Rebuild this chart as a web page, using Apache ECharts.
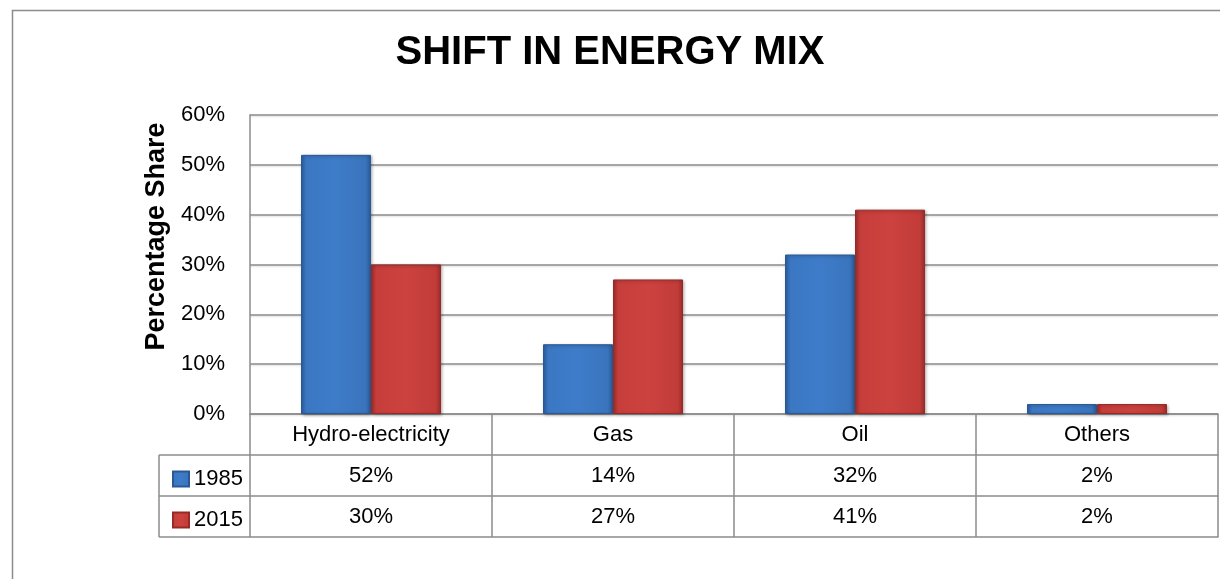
<!DOCTYPE html>
<html>
<head>
<meta charset="utf-8">
<title>Shift in Energy Mix</title>
<script src="https://cdn.jsdelivr.net/npm/echarts@6/dist/echarts.min.js"></script>
<style>
    html, body { margin: 0; padding: 0; background: #fff; }
    #chart { width: 1220px; height: 579px; }
</style>
</head>
<body>
<div id="chart"></div>
<script>
// data
const categories = ['Hydro-electricity', 'Gas', 'Oil', 'Others']
const years = ['1985', '2015']
const share1985 = [52, 14, 32, 2]
const share2015 = [30, 27, 41, 2]
const yTicks = [0, 10, 20, 30, 40, 50, 60]

// layout
const FONT = 'Liberation Sans'
const GRID_LEFT = 250
const GRID_RIGHT = 2
const GRID_TOP = 115
const GRID_BOTTOM = 165   // 0% line sits at y = 414
const ROW = 41            // data table row height
const LEGEND_LEFT = 159
const LINE = '#8c8c8c'

const pct = v => v + '%'

const blue = new echarts.graphic.LinearGradient(0, 0, 1, 0, [
    { offset: 0, color: '#2f63a6' },
    { offset: 0.08, color: '#3b77c3' },
    { offset: 0.5, color: '#3e7cc9' },
    { offset: 0.92, color: '#3a74bd' },
    { offset: 1, color: '#2b5a98' }
])
const red = new echarts.graphic.LinearGradient(0, 0, 1, 0, [
    { offset: 0, color: '#a8302d' },
    { offset: 0.08, color: '#c63e3b' },
    { offset: 0.5, color: '#cc423f' },
    { offset: 0.92, color: '#c23c39' },
    { offset: 1, color: '#9e2d2a' }
])

const chart = echarts.init(document.getElementById('chart'))

const zeroY = 579 - GRID_BOTTOM
const tableAxis = (labels, offset) => ({
    type: 'category',
    position: 'bottom',
    gridIndex: 0,
    offset: offset,
    data: labels,
    axisLine: { show: true, lineStyle: { color: LINE, width: 1.5 } },
    axisTick: { show: false },
    axisLabel: { show: labels.length > 0, interval: 0, margin: 10, fontFamily: FONT, fontSize: 22, color: '#000' },
    splitLine: { show: false }
})

const option = {
    backgroundColor: '#fff',
    animation: false,
    title: {
        text: 'SHIFT IN ENERGY MIX',
        left: 'center',
        top: 28,
        textStyle: { fontFamily: FONT, fontSize: 40, fontWeight: 'bold', color: '#000' }
    },
    legend: {
        data: years,
        orient: 'vertical',
        left: LEGEND_LEFT + 8,
        top: zeroY + ROW + 6,
        icon: 'rect',
        itemWidth: 16,
        itemHeight: 15,
        itemGap: 15,
        textStyle: { fontFamily: FONT, fontSize: 22, lineHeight: 26, color: '#000' }
    },
    grid: { left: GRID_LEFT, right: GRID_RIGHT, top: GRID_TOP, bottom: GRID_BOTTOM },
    xAxis: [
        {
            type: 'category',
            position: 'bottom',
            data: categories,
            axisLine: { show: true, lineStyle: { color: LINE, width: 1.5 } },
            axisTick: { show: true, interval: 0, inside: false, length: ROW * 3, lineStyle: { color: LINE, width: 1.5 } },
            axisLabel: { interval: 0, margin: 10, fontFamily: FONT, fontSize: 22, color: '#000' }
        },
        tableAxis(share1985.map(pct), ROW),
        tableAxis(share2015.map(pct), ROW * 2),
        tableAxis([], ROW * 3)
    ],
    yAxis: {
        type: 'value',
        min: yTicks[0],
        max: yTicks[yTicks.length - 1],
        interval: yTicks[1] - yTicks[0],
        name: 'Percentage Share',
        nameLocation: 'middle',
        nameRotate: 90,
        nameGap: 80,
        nameTextStyle: { fontFamily: FONT, fontSize: 27, fontWeight: 'bold', color: '#000', padding: [0, 0, 0, 56] },
        axisLine: { show: true, lineStyle: { color: LINE, width: 1.5 } },
        axisTick: { show: false },
        axisLabel: { margin: 25, fontFamily: FONT, fontSize: 22, color: '#000', formatter: '{value}%' },
        splitLine: { lineStyle: { color: LINE, width: 1.5, shadowColor: 'rgba(0,0,0,0.15)', shadowBlur: 2, shadowOffsetY: 1 } }
    },
    series: [
        {
            name: years[0],
            type: 'bar',
            data: share1985,
            barWidth: 70,
            barGap: '0%',
            itemStyle: { color: blue, borderColor: '#2a5894', borderWidth: 1, shadowColor: 'rgba(0,0,0,0.3)', shadowBlur: 3, shadowOffsetX: 1, shadowOffsetY: 1 }
        },
        {
            name: years[1],
            type: 'bar',
            data: share2015,
            barWidth: 70,
            barGap: '0%',
            itemStyle: { color: red, borderColor: '#962a28', borderWidth: 1, shadowColor: 'rgba(0,0,0,0.3)', shadowBlur: 3, shadowOffsetX: 1, shadowOffsetY: 1 }
        }
    ],
    graphic: [
        // outer chart frame (runs off the page on the right and bottom)
        { type: 'rect', left: 10, top: 8, shape: { width: 1400, height: 800 }, style: { fill: null, stroke: LINE, lineWidth: 1.5 }, silent: true, z: -1 },
        // legend column of the data table
        { type: 'line', shape: { x1: LEGEND_LEFT, y1: zeroY + ROW, x2: GRID_LEFT, y2: zeroY + ROW }, style: { stroke: LINE, lineWidth: 1.5 } },
        { type: 'line', shape: { x1: LEGEND_LEFT, y1: zeroY + ROW * 2, x2: GRID_LEFT, y2: zeroY + ROW * 2 }, style: { stroke: LINE, lineWidth: 1.5 } },
        { type: 'line', shape: { x1: LEGEND_LEFT, y1: zeroY + ROW * 3, x2: GRID_LEFT, y2: zeroY + ROW * 3 }, style: { stroke: LINE, lineWidth: 1.5 } },
        { type: 'line', shape: { x1: LEGEND_LEFT, y1: zeroY + ROW, x2: LEGEND_LEFT, y2: zeroY + ROW * 3 }, style: { stroke: LINE, lineWidth: 1.5 } }
    ]
}

chart.setOption(option)
</script>
</body>
</html>
